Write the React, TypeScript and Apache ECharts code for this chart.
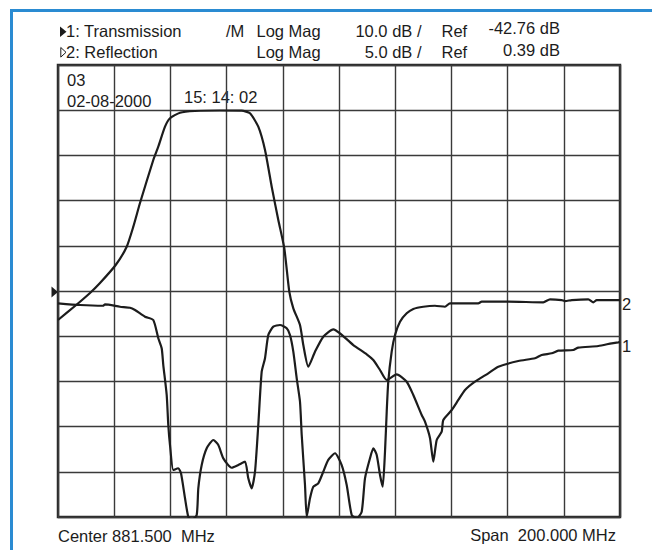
import React, { useEffect, useRef } from "react";
import * as echarts from "echarts";

// Frequency offset from centre (MHz), span 200 MHz
const FREQ_MIN = -100;
const FREQ_MAX = 100;
const FREQ_STEP = 20;
const DIVISIONS = 10;
const REF_DIV = 5;

// Trace 1: Transmission, Log Mag 10.0 dB/div, Ref -42.76 dB
const T1_SCALE = 10;
const T1_REF = -42.76;
const t1Freq = [
  -100, -93.95, -88.61, -85.05, -79.47, -75.55, -73.2, -70.82, -66.09, -64.31, -61.92, -60.14,
  -56.58, -51.25, -42.35, -34.63, -31.67, -28.72, -26.33, -23.95, -21.6, -19.47, -17.69, -16.26,
  -13.88, -12.7, -10.93, -8.54, -5.59, -2.03, 0.36, 5.09, 9.86, 12.21, 14.59, 16.98, 20.53, 24.09,
  26.44, 29.43, 30.6, 32.38, 33.56, 34.77, 36.55, 37.12, 40.11, 42.46, 44.84, 48.4, 53.13, 56.69,
  63.81, 69.75, 72.13, 75.69, 78.04, 83.38, 85.16, 92.28, 97.05, 99.4, 100,
];
const t1Db = [
  -49.18, -46.08, -43.2, -40.99, -37.01, -32.96, -28.53, -23.29, -13.78, -10.83, -6.41, -4.55,
  -3.31, -2.94, -2.83, -2.87, -3.45, -6.41, -11.57, -19.68, -27.05, -33.31, -42.91, -46.59,
  -50.28, -54.71, -59.51, -56.19, -52.87, -51.23, -52.12, -54.71, -56.76, -58.03, -60.24, -62.45,
  -61.19, -62.83, -65.77, -70.19, -71.68, -75.28, -80.53, -75.72, -73.89, -71.3, -69.09, -66.87,
  -64.66, -62.83, -60.97, -59.51, -58.25, -57.65, -56.92, -56.54, -55.97, -55.81, -55.3, -54.93,
  -54.33, -54.11, -54.05,
];

// Trace 2: Reflection, Log Mag 5.0 dB/div, Ref 0.39 dB
const T2_SCALE = 5;
const T2_REF = 0.39;
const t2Freq = [
  -100, -92.17, -83.99, -83.27, -77.94, -74.38, -72.6, -69.04, -66.09, -64.31, -63.1, -62.53,
  -61.32, -60.75, -60.14, -58.97, -57.19, -56.23, -54.8, -53.63, -52.42, -50.64, -50.07, -48.86,
  -47.08, -44.73, -42.95, -41.17, -38.19, -35.84, -33.45, -32.28, -31.07, -29.89, -28.72, -27.51,
  -26.33, -25.16, -23.38, -21.0, -18.61, -17.44, -16.26, -15.05, -13.88, -13.27, -12.1, -11.49,
  -10.32, -9.15, -7.37, -5.59, -3.81, -1.42, 0.96, 2.74, 4.52, 6.3, 8.08, 9.25, 11.03, 12.21,
  13.42, 14.59, 15.55, 16.37, 16.98, 17.54, 18.75, 19.93, 21.71, 24.09, 26.44, 30.0, 34.16,
  37.72, 39.5, 49.57, 50.78, 60.25, 72.7, 75.09, 79.25, 80.43, 82.81, 88.72, 90.5, 91.71, 99.4,
  100,
];
const t2Db = [
  -0.97, -1.16, -1.24, -1.1, -1.35, -1.46, -1.71, -2.45, -2.82, -4.84, -5.95, -7.8, -11.11,
  -14.43, -16.65, -19.41, -19.22, -19.78, -22.54, -24.58, -24.94, -24.39, -21.44, -18.86, -17.01,
  -16.09, -16.65, -18.12, -19.16, -18.86, -18.49, -20.33, -21.44, -19.6, -14.43, -8.54, -7.05,
  -4.48, -3.56, -3.37, -3.74, -4.48, -6.32, -9.27, -11.86, -15.54, -21.07, -24.58, -22.54,
  -21.26, -20.88, -19.6, -18.3, -17.56, -18.86, -21.07, -24.39, -24.75, -24.02, -20.33, -18.12,
  -17.01, -17.75, -19.96, -21.26, -17.39, -12.96, -9.64, -6.32, -4.48, -3.01, -2.08, -1.6,
  -1.35, -1.24, -1.35, -0.97, -0.97, -0.79, -0.79, -0.86, -0.53, -0.61, -0.72, -0.61, -0.53,
  -0.86, -0.61, -0.61, -0.61,
];

const headerRow1 = ["1: Transmission", "/M", "Log Mag", "10.0 dB /", "Ref", "-42.76 dB"];
const headerRow2 = ["2: Reflection", "Log Mag", "5.0 dB /", "Ref", "0.39 dB"];
const stampLines = ["03", "02-08-2000", "15: 14: 02"];
const footerLeft = "Center 881.500  MHz";
const footerRight = "Span  200.000 MHz";
const traceLabels = ["1", "2"];

const FONT = "'Liberation Sans', Arial, sans-serif";
const INK = "#1c1c1c";
const BLUE = "#2a8bd2";
const FS = 16.5;

function toDiv(freqs: number[], dbs: number[], ref: number, scale: number) {
  return freqs.map((f, i) => [f, REF_DIV + (dbs[i] - ref) / scale]);
}

export default function App() {
  const ref = useRef<HTMLDivElement>(null);
  useEffect(() => {
    if (!ref.current) return;
    const chart = echarts.init(ref.current, null, { renderer: "svg" });
    // y is the text baseline; convert to vertical middle
    const txt = (text: string, x: number, baseline: number, align: "left" | "right" = "left") => ({
      type: "text",
      x,
      y: baseline - FS * 0.35,
      style: {
        text,
        fill: INK,
        font: `${FS}px ${FONT}`,
        align,
        verticalAlign: "middle",
      },
      silent: true,
    });
    const t1Data = toDiv(t1Freq, t1Db, T1_REF, T1_SCALE);
    const t2Data = toDiv(t2Freq, t2Db, T2_REF, T2_SCALE);

    chart.setOption({
      animation: false,
      backgroundColor: "#ffffff",
      grid: {
        left: 58,
        top: 65,
        width: 562,
        height: 452,
        show: true,
        borderColor: "#2a2a2a",
        borderWidth: 2.5,
        backgroundColor: "transparent",
      },
      xAxis: {
        type: "value",
        min: FREQ_MIN,
        max: FREQ_MAX,
        interval: FREQ_STEP,
        axisLine: { show: false },
        axisTick: { show: false },
        axisLabel: { show: false },
        splitLine: { show: true, lineStyle: { color: "#3a3a3a", width: 1.4 } },
      },
      yAxis: {
        type: "value",
        min: 0,
        max: DIVISIONS,
        interval: 1,
        axisLine: { show: false },
        axisTick: { show: false },
        axisLabel: { show: false },
        splitLine: { show: true, lineStyle: { color: "#3a3a3a", width: 1.4 } },
      },
      series: [
        {
          name: "Transmission",
          type: "line",
          data: t1Data,
          showSymbol: false,
          smooth: 0.2,
          lineStyle: { color: INK, width: 2.2 },
          endLabel: {
            show: true,
            formatter: traceLabels[0],
            color: INK,
            fontFamily: FONT,
            fontSize: FS,
            distance: 2,
            offset: [0, 4],
          },
          z: 3,
        },
        {
          name: "Reflection",
          type: "line",
          data: t2Data,
          showSymbol: false,
          smooth: 0.2,
          lineStyle: { color: INK, width: 2.2 },
          endLabel: {
            show: true,
            formatter: traceLabels[1],
            color: INK,
            fontFamily: FONT,
            fontSize: FS,
            distance: 2,
            offset: [0, 4],
          },
          z: 3,
        },
      ],
      graphic: [
        // blue frame
        { type: "rect", shape: { x: 10, y: 9, width: 642, height: 3 }, style: { fill: BLUE }, silent: true },
        { type: "rect", shape: { x: 10, y: 9, width: 3, height: 541 }, style: { fill: BLUE }, silent: true },
        // trace symbols
        {
          type: "polygon",
          shape: { points: [[60, 26.5], [66.5, 31.7], [60, 36.9]] },
          style: { fill: INK },
          silent: true,
        },
        {
          type: "polygon",
          shape: { points: [[60.8, 47.5], [66, 52.3], [60.8, 57.1]] },
          style: { fill: "none", stroke: INK, lineWidth: 1 },
          silent: true,
        },
        // reference marker
        {
          type: "polygon",
          shape: { points: [[51.5, 286.5], [58, 292], [51.5, 297.5]] },
          style: { fill: INK },
          silent: true,
        },
        txt(headerRow1[0], 66, 36.7),
        txt(headerRow1[1], 226, 36.7),
        txt(headerRow1[2], 256.5, 36.7),
        txt(headerRow1[3], 421.5, 36.7, "right"),
        txt(headerRow1[4], 441.5, 36.7),
        txt(headerRow1[5], 560, 33.5, "right"),
        txt(headerRow2[0], 66, 58),
        txt(headerRow2[1], 256.5, 58),
        txt(headerRow2[2], 421.5, 58, "right"),
        txt(headerRow2[3], 441.5, 58),
        txt(headerRow2[4], 560, 55.5, "right"),
        txt(stampLines[0], 67, 86),
        txt(stampLines[1], 67, 106.5),
        txt(stampLines[2], 184, 102.5),
        txt(footerLeft, 58, 541.5),
        txt(footerRight, 616, 541, "right"),
      ],
    });
    return () => chart.dispose();
  }, []);
  return (
    <div
      ref={ref}
      style={{ position: "fixed", left: 0, top: 0, width: 652, height: 550, background: "#fff" }}
    />
  );
}
